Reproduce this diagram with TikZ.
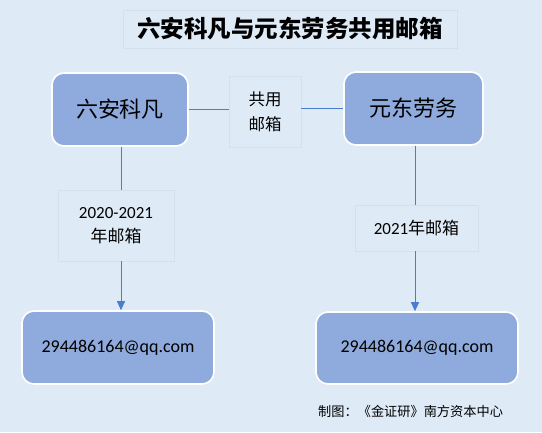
\documentclass[tikz,border=0pt]{standalone}
\usepackage{fontspec}
\setmainfont{Carlito}
\newfontfamily\cjk{Noto Sans CJK SC}
\usetikzlibrary{arrows.meta}
\definecolor{bgc}{HTML}{DEEBF7}
\definecolor{boxc}{HTML}{8FAADC}
\definecolor{linec}{HTML}{4A7CCF}
\definecolor{lblb}{HTML}{D2E0F0}
\tikzset{
  mainbox/.style={draw=white, line width=1.6pt, fill=boxc, rounded corners=12pt, inner sep=0pt},
  lblbox/.style={draw=lblb, line width=0.6pt, fill=bgc, inner sep=0pt, align=center},
  conn/.style={draw=linec, line width=0.9pt},
  arr/.style={conn, -{Triangle[width=8pt,length=9pt]}}
}
\begin{document}
\begin{tikzpicture}[x=1pt,y=-1pt]
\fill[bgc] (0,0) rectangle (542,432);
\useasboundingbox (0,0) rectangle (542,432);
\node[lblbox, minimum width=334pt, minimum height=38pt, font=\cjk\bfseries\fontsize{23.5}{26}\selectfont] (title) at (290,29) {六安科凡与元东劳务共用邮箱};
\node[mainbox, minimum width=136pt, minimum height=73pt, font=\cjk\fontsize{22}{26}\selectfont] (a) at (120,109.5) {六安科凡};
\node[mainbox, minimum width=139pt, minimum height=73pt, font=\cjk\fontsize{22}{26}\selectfont] (b) at (413.5,108.5) {元东劳务};
\node[lblbox, minimum width=72pt, minimum height=71pt, font=\cjk\fontsize{16.5}{25}\selectfont] (m) at (265,111.5) {共用\\邮箱};
\node[lblbox, minimum width=116pt, minimum height=71pt, font=\fontsize{17}{24}\selectfont] (l1) at (116,225.5) {2020-2021\\{\cjk 年邮箱}};
\node[lblbox, minimum width=123pt, minimum height=46pt, font=\fontsize{17}{24}\selectfont] (l2) at (416.5,228) {2021{\cjk 年邮箱}};
\node[mainbox, minimum width=192pt, minimum height=73pt, font=\fontsize{18}{22}\selectfont] (e1) at (118,347.5) {294486164@qq.com};
\node[mainbox, minimum width=202pt, minimum height=72pt, font=\fontsize{18}{22}\selectfont] (e2) at (417,348) {294486164@qq.com};
\node[anchor=west, inner sep=0pt, font=\cjk\fontsize{13.2}{16}\selectfont] (foot) at (318,411) {制图：《金证研》南方资本中心};
\draw[conn] (a.east) -- (m.west |- a.east);
\draw[conn] (m.east |- b.west) -- (b.west);
\coordinate (ax) at (121,0);
\coordinate (bx) at (415,0);
\draw[conn] (ax |- a.south) -- (ax |- l1.north);
\draw[arr] (ax |- l1.south) -- (ax |- e1.north);
\draw[conn] (bx |- b.south) -- (bx |- l2.north);
\draw[arr] (bx |- l2.south) -- (bx |- e2.north);
\end{tikzpicture}
\end{document}
